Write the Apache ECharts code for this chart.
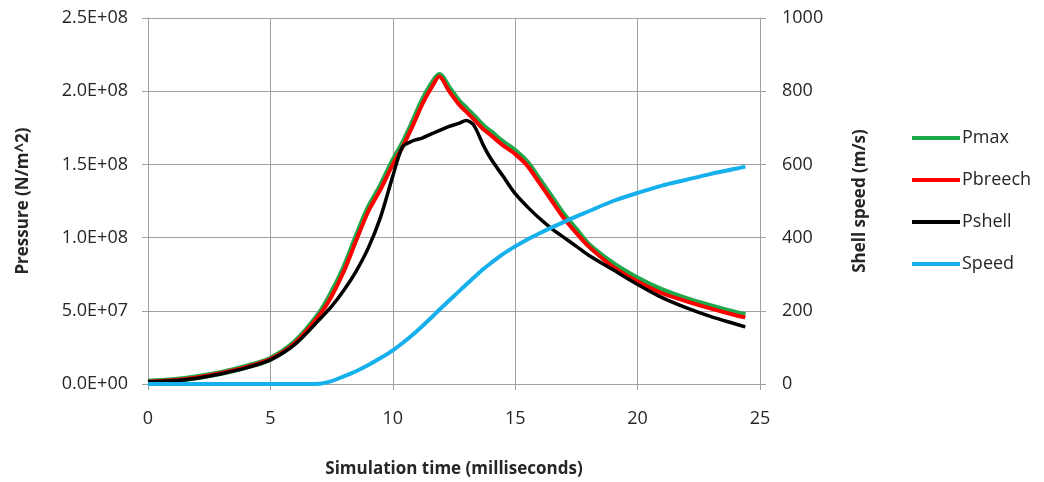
<!DOCTYPE html>
<html>
<head>
<meta charset="utf-8">
<script src="https://cdn.jsdelivr.net/npm/echarts@6/dist/echarts.min.js"></script>
<style>
  html, body { margin: 0; padding: 0; background: #fff; }
  #chart { width: 1044px; height: 482px; }
</style>
</head>
<body>
<div id="chart"></div>
<script>
// time in milliseconds
const timeMs = [0, 1, 2, 3, 4, 5, 6, 7, 7.5, 8, 8.5, 9, 9.5, 10, 10.4, 10.8, 11.2, 11.6, 11.9,
  12.3, 12.7, 13, 13.3, 13.7, 14, 14.5, 15, 15.5, 16, 16.5, 17, 17.5, 18, 19, 20, 21, 22, 23, 24, 24.4];

// pressures in units of 1E8 N/m^2
const pmax = [0.016, 0.026, 0.046, 0.076, 0.117, 0.172, 0.285, 0.48, 0.62, 0.79, 1.0, 1.2, 1.35,
  1.52, 1.64, 1.78, 1.93, 2.05, 2.11, 2.02, 1.93, 1.88, 1.83, 1.76, 1.72, 1.65, 1.59, 1.51,
  1.39, 1.27, 1.15, 1.05, 0.95, 0.82, 0.72, 0.64, 0.58, 0.53, 0.485, 0.47];
const pbreech = [0.015, 0.025, 0.045, 0.075, 0.115, 0.17, 0.28, 0.47, 0.6, 0.77, 0.98, 1.18, 1.33,
  1.5, 1.62, 1.76, 1.91, 2.03, 2.1, 2.0, 1.91, 1.86, 1.81, 1.74, 1.7, 1.63, 1.57, 1.49,
  1.37, 1.25, 1.13, 1.03, 0.94, 0.8, 0.7, 0.62, 0.565, 0.515, 0.47, 0.455];
const pshell = [0.015, 0.022, 0.04, 0.07, 0.11, 0.165, 0.27, 0.44, 0.53, 0.64, 0.77, 0.93, 1.14,
  1.42, 1.62, 1.66, 1.68, 1.71, 1.73, 1.76, 1.78, 1.8, 1.77, 1.63, 1.54, 1.42, 1.3, 1.21,
  1.13, 1.06, 1.0, 0.94, 0.88, 0.78, 0.68, 0.59, 0.52, 0.46, 0.41, 0.39];

// shell speed in m/s
const speed = [0, 0, 0, 0, 0, 0, 0, 1, 8, 21, 35, 52, 71, 92, 112, 134, 158, 183, 203,
  228, 253, 272, 290, 314, 330, 355, 376, 395, 412, 428, 443, 458, 472, 500, 522, 542, 558, 574, 588, 594];

const seriesNames = ['Pmax', 'Pbreech', 'Pshell', 'Speed'];
const seriesColors = ['#1fa84a', '#ff0000', '#000000', '#16b0ec'];
const seriesWidths = [6, 4, 3.5, 4];

const pair = (vals, scale) => timeMs.map((t, i) => [t, vals[i] * scale]);

const sciLabel = v => {
  if (v === 0) return '0.0E+00';
  const exp = Math.floor(Math.log10(v) + 1e-9);
  const mant = v / Math.pow(10, exp);
  return mant.toFixed(1) + 'E+' + String(exp).padStart(2, '0');
};

const chart = echarts.init(document.getElementById('chart'));
const font = '"Open Sans", Lato, sans-serif';
const grey = '#a0a0a0';
const ink = '#262626';
const titleStyle = { fontSize: 17, fontWeight: 'bold', color: ink, fontFamily: font };

const makeLine = (name, vals, scale, idx, axis) => ({
  name, type: 'line', yAxisIndex: axis, data: pair(vals, scale),
  smooth: 0.3, symbol: 'none',
  lineStyle: { width: seriesWidths[idx], color: seriesColors[idx] },
  itemStyle: { color: seriesColors[idx] }
});

const option = {
  animation: false,
  textStyle: { fontFamily: font },
  grid: { left: 148, right: 284, top: 18, bottom: 98, outerBoundsMode: 'none', containLabel: false },
  legend: {
    orient: 'vertical',
    left: 907,
    top: 124,
    itemGap: 24,
    itemWidth: 48,
    itemHeight: 4,
    icon: 'rect',
    textStyle: { fontSize: 18, color: ink, fontFamily: font, padding: [0, 0, 0, -3] },
    data: seriesNames
  },
  xAxis: {
    type: 'value',
    min: 0, max: 25, interval: 5,
    name: 'Simulation time (milliseconds)',
    nameLocation: 'middle',
    nameGap: 77,
    nameTextStyle: titleStyle,
    axisLine: { lineStyle: { color: grey } },
    axisTick: { show: true, length: 6, lineStyle: { color: grey } },
    axisLabel: { fontSize: 18, color: ink, margin: 26 },
    splitLine: { show: true, lineStyle: { color: grey } }
  },
  yAxis: [{
    type: 'value',
    min: 0, max: 2.5e8, interval: 5e7,
    name: 'Pressure (N/m^2)',
    nameLocation: 'middle',
    nameRotate: 90,
    nameGap: 116,
    nameTextStyle: titleStyle,
    axisLine: { show: true, lineStyle: { color: grey } },
    axisTick: { show: true, length: 6, lineStyle: { color: grey } },
    axisLabel: { fontSize: 18, color: ink, margin: 20, formatter: sciLabel },
    splitLine: { show: true, lineStyle: { color: grey } }
  }, {
    type: 'value',
    min: 0, max: 1000, interval: 200,
    position: 'right',
    name: 'Shell speed (m/s)',
    nameLocation: 'middle',
    nameRotate: 90,
    nameGap: 92,
    nameTextStyle: titleStyle,
    axisLine: { show: true, lineStyle: { color: grey } },
    axisTick: { show: true, length: 6, lineStyle: { color: grey } },
    axisLabel: { fontSize: 18, color: ink, margin: 22, formatter: v => String(v) },
    splitLine: { show: false }
  }],
  series: [
    makeLine('Pmax', pmax, 1e8, 0, 0),
    makeLine('Pbreech', pbreech, 1e8, 1, 0),
    makeLine('Pshell', pshell, 1e8, 2, 0),
    makeLine('Speed', speed, 1, 3, 1)
  ]
};
chart.setOption(option);
</script>
</body>
</html>
